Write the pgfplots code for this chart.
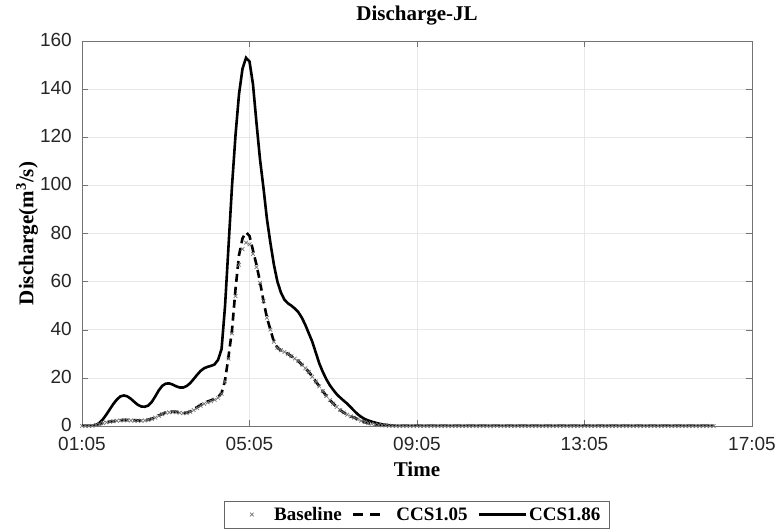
\documentclass[border=0pt]{standalone}
\usepackage{fontspec}
\setmainfont{Liberation Serif}
\newfontfamily\arial{Liberation Sans}
\usepackage{pgfplots}
\usepackage{pgfplotstable}
\pgfplotsset{compat=1.18}
\pgfplotsset{
    legmark/.style={legend image code/.code={
        \path (0pt,0pt) (40pt,0pt);
        \draw[##1] plot coordinates {(20pt,0pt)};}},
    legdash/.style={legend image code/.code={
        \path (0pt,0pt) (40pt,0pt);
        \draw[##1, dash pattern=on 10pt off 7pt] (0pt,0pt) -- (27pt,0pt);}},
    legline/.style={legend image code/.code={\draw[##1] (0pt,0pt) -- (47pt,0pt);}},
}

% t = minutes after 01:05; base, c105, c186 = discharge (m3/s)
\pgfplotstableread{
t base c105 c186
0 0 0 0
5 0 0 0
10 0 0 0
15 0.1 0.1 0.1
20 0.4 0.4 0.4
25 0.8 0.8 1.3
30 1.2 1.2 2.8
35 1.5 1.5 4.8
40 1.8 1.8 7.0
45 2.0 2.0 9.2
50 2.2 2.2 11.0
55 2.3 2.4 12.3
60 2.4 2.5 12.7
65 2.4 2.5 12.3
70 2.3 2.5 11.3
75 2.2 2.4 10.0
80 2.2 2.3 8.8
85 2.2 2.3 8.1
90 2.3 2.4 8.0
95 2.5 2.6 8.5
100 2.9 3.0 10.0
105 3.5 3.6 12.3
110 4.2 4.3 14.8
115 4.9 5.0 16.7
120 5.4 5.6 17.6
125 5.7 5.9 17.7
130 5.8 6.0 17.2
135 5.7 5.9 16.5
140 5.5 5.6 16.0
145 5.3 5.4 16.0
150 5.4 5.5 16.6
155 5.9 6.0 17.8
160 6.6 6.8 19.5
165 7.5 7.8 21.3
170 8.4 8.8 22.9
175 9.2 9.6 24.0
180 9.8 10.2 24.6
185 10.3 10.7 25.0
190 10.9 11.3 25.6
195 11.7 12.0 27.5
200 13.4 13.7 32
205 18.5 19 50
210 28 29 75
215 38.5 40 100
220 54 57 121
225 67 71 138
230 73.5 78 148.5
235 76.2 80.5 153
240 75.5 79 151.5
245 71.5 73 142
250 66 67 126
255 59.5 60 111
260 52 52 99
265 45 45 86
270 40 40 76
275 35 35 67
280 32.5 32.5 60
285 31.5 31.5 55.5
290 30.8 30.8 52.5
295 30 30 51
300 29 29 50
305 28 28 48.8
310 27 27 47.3
315 25.5 25.5 45
320 24 24 42
325 22.5 22.5 38.5
330 20.5 20.5 35
335 18.5 18.5 30.5
340 16.5 16.5 26
345 14.5 14.5 22.5
350 12.5 12.5 19.5
355 10.8 10.8 17
360 9.3 9.3 15
365 7.9 7.9 13.2
370 6.6 6.6 11.8
375 5.6 5.6 10.5
380 4.7 4.7 9.3
385 4.0 4.0 7.8
390 3.5 3.5 6.3
395 2.8 2.8 4.9
400 2.2 2.2 3.8
405 1.6 1.6 2.9
410 1.2 1.2 2.3
415 0.9 0.9 1.8
420 0.6 0.6 1.4
425 0.4 0.4 1.0
430 0.3 0.3 0.7
435 0.2 0.2 0.5
440 0.1 0.1 0.3
445 0.05 0.05 0.15
450 0 0 0.05
455 0 0 0
460 0 0 0
465 0 0 0
470 0 0 0
475 0 0 0
480 0 0 0
485 0 0 0
490 0 0 0
495 0 0 0
500 0 0 0
505 0 0 0
510 0 0 0
515 0 0 0
520 0 0 0
525 0 0 0
530 0 0 0
535 0 0 0
540 0 0 0
545 0 0 0
550 0 0 0
555 0 0 0
560 0 0 0
565 0 0 0
570 0 0 0
575 0 0 0
580 0 0 0
585 0 0 0
590 0 0 0
595 0 0 0
600 0 0 0
605 0 0 0
610 0 0 0
615 0 0 0
620 0 0 0
625 0 0 0
630 0 0 0
635 0 0 0
640 0 0 0
645 0 0 0
650 0 0 0
655 0 0 0
660 0 0 0
665 0 0 0
670 0 0 0
675 0 0 0
680 0 0 0
685 0 0 0
690 0 0 0
695 0 0 0
700 0 0 0
705 0 0 0
710 0 0 0
715 0 0 0
720 0 0 0
725 0 0 0
730 0 0 0
735 0 0 0
740 0 0 0
745 0 0 0
750 0 0 0
755 0 0 0
760 0 0 0
765 0 0 0
770 0 0 0
775 0 0 0
780 0 0 0
785 0 0 0
790 0 0 0
795 0 0 0
800 0 0 0
805 0 0 0
810 0 0 0
815 0 0 0
820 0 0 0
825 0 0 0
830 0 0 0
835 0 0 0
840 0 0 0
845 0 0 0
850 0 0 0
855 0 0 0
860 0 0 0
865 0 0 0
870 0 0 0
875 0 0 0
880 0 0 0
885 0 0 0
890 0 0 0
895 0 0 0
900 0 0 0
905 0 0 0
}\jldata

\begin{document}
\begin{tikzpicture}
\path[use as bounding box] (-82pt,-103pt) rectangle (695pt,426pt);
\begin{axis}[
    scale only axis,
    width=670pt, height=385pt,
    xmin=0, xmax=960, ymin=0, ymax=160,
    xtick={0,240,480,720,960},
    xticklabels={01:05,05:05,09:05,13:05,17:05},
    ytick={0,20,...,160},
    /pgf/number format/assume math mode=true,
    tick label style={font=\arial\fontsize{19}{22}\selectfont, text=black!85},
    xticklabel style={anchor=base, yshift=-25pt},
    yticklabel style={anchor=east, inner sep=0pt, xshift=-10pt, yshift=1pt},
    tick align=inside, major tick length=6pt,
    axis line style={black!55}, every tick/.style={black!55},
    grid=major, grid style={black!9, line width=0.6pt},
    title={Discharge-JL},
    title style={font=\bfseries\fontsize{21}{24}\selectfont, anchor=base, at={(0.5,1)}, yshift=14pt},
    xlabel={Time},
    xlabel style={font=\bfseries\fontsize{21}{24}\selectfont, at={(axis description cs:0.5,0)}, anchor=base, yshift=-51pt},
    ylabel={Discharge(m\textsuperscript{3}/s)},
    ylabel style={font=\bfseries\fontsize{21}{24}\selectfont, at={(axis description cs:0,0.5)}, anchor=center, yshift=55pt},
    legend columns=3,
    legend style={at={(0.5,0)}, anchor=north, yshift=-75pt, draw=black!60,
        font=\bfseries\fontsize{19}{22}\selectfont, inner xsep=7pt, inner ysep=4pt,
        /tikz/every even column/.append style={column sep=8pt}},
]
\addplot[only marks, mark=x, mark size=2.6pt, black!55, line width=0.7pt, legmark]
    table[x=t, y=base] {\jldata};
\addlegendentry{Baseline}
\addplot[black, line width=2.6pt, dash pattern=on 8pt off 5pt, legdash]
    table[x=t, y=c105] {\jldata};
\addlegendentry{CCS1.05}
\addplot[black, line width=2.6pt, legline]
    table[x=t, y=c186] {\jldata};
\addlegendentry{CCS1.86}
\end{axis}
\end{tikzpicture}
\end{document}
